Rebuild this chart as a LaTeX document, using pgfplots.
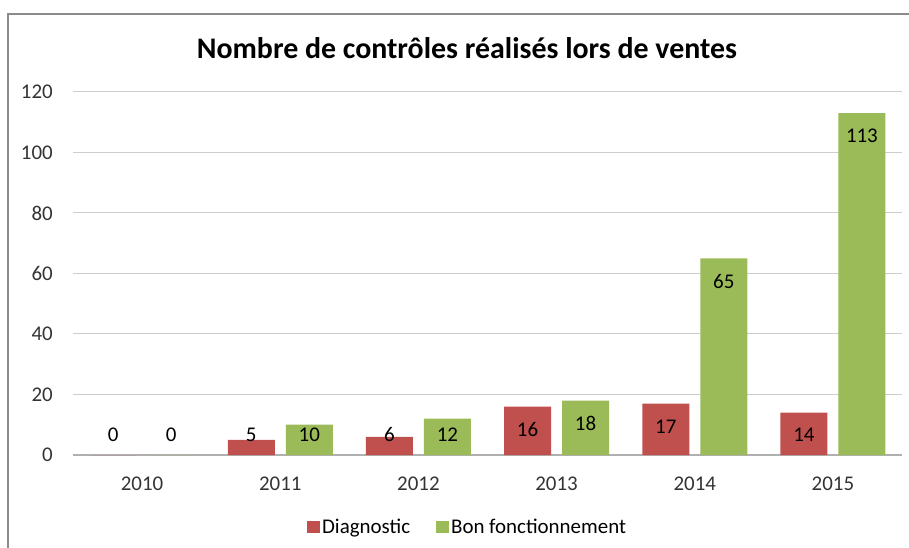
\documentclass[border=0pt]{standalone}
\usepackage{pgfplots}
\pgfplotsset{compat=1.18}
\usepackage{fontspec}
\setmainfont{Carlito}
\definecolor{cred}{HTML}{C0504D}
\definecolor{cgreen}{HTML}{9BBB59}
\definecolor{gridc}{HTML}{CDCDCD}
\definecolor{axc}{HTML}{B0B0B0}
\definecolor{framec}{HTML}{8C8C8C}
\begin{document}
\begin{tikzpicture}
\useasboundingbox (0bp,0bp) rectangle (909bp,548bp);
\draw[color=framec, line width=1.5bp] (8bp,0bp) -- (8bp,534bp) -- (909bp,534bp);
\node[font=\bfseries\fontsize{30}{36}\selectfont] at (467bp,500bp) {Nombre de contrôles réalisés lors de ventes};
\begin{axis}[
  at={(73bp,93bp)}, anchor=south west, scale only axis,
  width=829bp, height=363bp,
  xmin=-0.5, xmax=5.5, ymin=0, ymax=120,
  ytick={0,20,...,120},
  xtick=data, xticklabels={2010,2011,2012,2013,2014,2015},
  /pgf/number format/assume math mode=true,
  axis lines*=left,
  x axis line style={draw=axc, line width=1.3bp},
  y axis line style={draw=none},
  major tick length=0pt,
  ymajorgrids, grid style={draw=gridc, line width=1bp},
  ticklabel style={font=\fontsize{21}{25}\selectfont, text=black!80},
  yticklabel style={inner sep=0pt, xshift=-20bp},
  xticklabel style={inner sep=0pt, yshift=-22bp},
  ybar=11bp, bar width=47bp,
  nodes near coords,
  visualization depends on={y \as \ry},
  every node near coord/.append style={font=\fontsize{21}{25}\selectfont, text=black, anchor=center, yshift={max(-23,20-\ry*3.025)}},
  legend style={at={(0.476,-0.198)}, anchor=center, legend columns=2, draw=none, font=\fontsize{21}{25}\selectfont, /tikz/every even column/.append style={column sep=24bp}},
  legend image code/.code={\fill[#1] (-3bp,-6bp) rectangle (10bp,6bp);},
]
\addplot[fill=cred, draw=none] coordinates {(0,0) (1,5) (2,6) (3,16) (4,17) (5,14)};
\addplot[fill=cgreen, draw=none] coordinates {(0,0) (1,10) (2,12) (3,18) (4,65) (5,113)};
\legend{Diagnostic, Bon fonctionnement}
\end{axis}
\end{tikzpicture}
\end{document}
